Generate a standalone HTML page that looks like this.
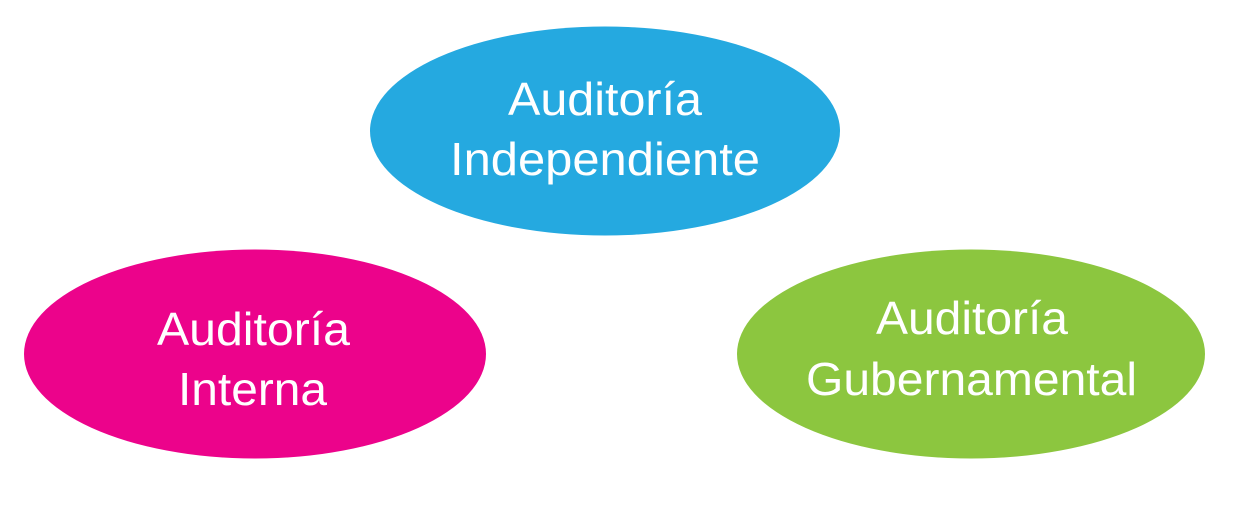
<!DOCTYPE html>
<html><head><style>
html,body{margin:0;padding:0;background:#fff;}
</style></head><body>
<svg width="1243" height="520" xmlns="http://www.w3.org/2000/svg" style="display:block">
<ellipse cx="605" cy="131" rx="235" ry="104.5" fill="#25a9e0"/>
<ellipse cx="255" cy="354" rx="231" ry="104.5" fill="#ec038b"/>
<ellipse cx="971" cy="354" rx="234" ry="104.5" fill="#8cc63f"/>
<g font-family="Liberation Sans, sans-serif" font-size="46" fill="#fff" lengthAdjust="spacingAndGlyphs">
<text x="508" y="115" textLength="194" lengthAdjust="spacingAndGlyphs">Auditoría</text>
<text x="450" y="175" textLength="310" lengthAdjust="spacingAndGlyphs">Independiente</text>
<text x="157" y="345" textLength="193" lengthAdjust="spacingAndGlyphs">Auditoría</text>
<text x="178" y="405" textLength="149" lengthAdjust="spacingAndGlyphs">Interna</text>
<text x="876" y="334" textLength="192" lengthAdjust="spacingAndGlyphs">Auditoría</text>
<text x="806" y="395" textLength="331" lengthAdjust="spacingAndGlyphs">Gubernamental</text>
</g>
</svg>
</body></html>
